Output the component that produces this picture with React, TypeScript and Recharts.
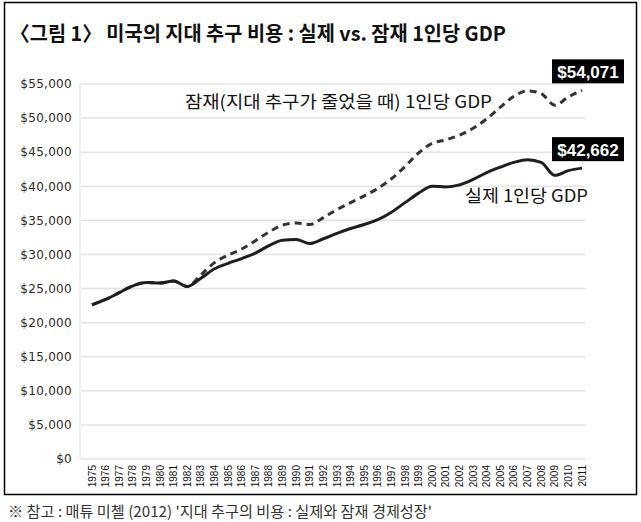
import React from "react";
import { LineChart, Line, XAxis, YAxis, CartesianGrid, LabelList } from "recharts";

const years = [
  1975, 1976, 1977, 1978, 1979, 1980, 1981, 1982, 1983, 1984, 1985, 1986, 1987,
  1988, 1989, 1990, 1991, 1992, 1993, 1994, 1995, 1996, 1997, 1998, 1999, 2000,
  2001, 2002, 2003, 2004, 2005, 2006, 2007, 2008, 2009, 2010, 2011,
];

const actualGdp = [
  22600, 23400, 24400, 25400, 25900, 25800, 26100, 25300, 26500, 27900, 28700,
  29400, 30200, 31300, 32100, 32200, 31600, 32300, 33100, 33800, 34400, 35100,
  36200, 37600, 39000, 40000, 39900, 40200, 41000, 42000, 42800, 43500, 43900,
  43500, 41600, 42300, 42662,
];

const potentialGdp = [
  22600, 23400, 24400, 25400, 25900, 25800, 26100, 25300, 27000, 28800, 29900,
  30800, 32000, 33300, 34300, 34600, 34400, 35400, 36600, 37600, 38600, 39700,
  41100, 42900, 44900, 46300, 46800, 47500, 48500, 49900, 51600, 53200, 54000,
  53600, 51900, 53100, 54071,
];

const yTicks = [0, 5000, 10000, 15000, 20000, 25000, 30000, 35000, 40000, 45000, 50000, 55000];

const titleText = "〈그림 1〉 미국의 지대 추구 비용 : 실제 vs. 잠재 1인당 GDP";
const potentialLabel = "잠재(지대 추구가 줄었을 때) 1인당 GDP";
const actualLabel = "실제 1인당 GDP";
const footnoteText = "※ 참고 : 매튜 미첼 (2012) '지대 추구의 비용 : 실제와 잠재 경제성장'";

const data = years.map((year, i) => ({
  year,
  actual: actualGdp[i],
  potential: potentialGdp[i],
}));

const KR = "'Noto Sans CJK KR', 'Noto Sans', sans-serif";

const YearTick = (props: any) => {
  const { x, y, payload } = props;
  return (
    <text
      x={x}
      y={y}
      transform={`rotate(-90 ${x} ${y})`}
      textAnchor="end"
      dominantBaseline="central"
      fontSize={10}
      fill="#111"
      fontFamily="'Liberation Sans', Arial, sans-serif"
    >
      {payload.value}
    </text>
  );
};

const makeBoxLabel = (lastIndex: number) => (props: any) => {
  const { x, y, value, index } = props;
  if (index !== lastIndex) return null;
  const cx = x + 6;
  const cy = y - 19;
  return (
    <g>
      <rect x={cx - 36} y={cy - 12} width={72} height={24} fill="#000" />
      <text
        x={cx}
        y={cy + 1}
        textAnchor="middle"
        dominantBaseline="central"
        fill="#fff"
        fontWeight="bold"
        fontSize={17}
        fontFamily="'Liberation Sans', Arial, sans-serif"
      >
        {"$" + Number(value).toLocaleString("en-US")}
      </text>
    </g>
  );
};

export default function App() {
  const last = years.length - 1;
  return (
    <div style={{ position: "absolute", left: 0, top: 0, width: 641, height: 522, background: "#fff" }}>
      <LineChart
        width={641}
        height={522}
        data={data}
        margin={{ top: 84, right: 56, bottom: 0, left: 0 }}
      >
        <CartesianGrid vertical={false} stroke="#e3e3e3" strokeWidth={1.5} />
        <XAxis
          dataKey="year"
          type="number"
          domain={[1975, 2011]}
          ticks={years}
          interval={0}
          padding={{ left: 12, right: 3 }}
          axisLine={false}
          tickLine={false}
          tickMargin={0}
          height={63}
          tick={<YearTick />}
        />
        <YAxis
          domain={[0, 55000]}
          ticks={yTicks}
          width={80}
          axisLine={{ stroke: "#efefef", strokeWidth: 2 }}
          tickLine={false}
          tickFormatter={(v: number) => "$" + v.toLocaleString("en-US")}
          tick={{ fontSize: 12, fill: "#2a2a2a", fontFamily: "'DejaVu Sans', sans-serif", letterSpacing: 0.3 }}
        />
        <Line
          type="monotone"
          dataKey="potential"
          stroke="#333"
          strokeWidth={3}
          strokeDasharray="7 5"
          dot={false}
          isAnimationActive={false}
        >
          <LabelList dataKey="potential" content={makeBoxLabel(last)} />
        </Line>
        <Line
          type="monotone"
          dataKey="actual"
          stroke="#1e1e1e"
          strokeWidth={3}
          dot={false}
          isAnimationActive={false}
        >
          <LabelList dataKey="actual" content={makeBoxLabel(last)} />
        </Line>
      </LineChart>
      <svg
        width={641}
        height={522}
        style={{ position: "absolute", left: 0, top: 0, pointerEvents: "none" }}
      >
        <rect x={4.5} y={2.5} width={632} height={492} fill="none" stroke="#000" strokeWidth={1.5} />
        <text
          x={10}
          y={32}
          dominantBaseline="central"
          fontSize={20}
          fontWeight="bold"
          fontFamily={KR}
          fill="#111"
          textLength={496}
          lengthAdjust="spacingAndGlyphs"
        >
          {titleText}
        </text>
        <text
          x={185}
          y={100}
          dominantBaseline="central"
          fontSize={17.5}
          fontFamily={KR}
          fill="#111"
          textLength={307}
          lengthAdjust="spacingAndGlyphs"
        >
          {potentialLabel}
        </text>
        <text
          x={465}
          y={194}
          dominantBaseline="central"
          fontSize={17.5}
          fontFamily={KR}
          fill="#111"
          textLength={123}
          lengthAdjust="spacingAndGlyphs"
        >
          {actualLabel}
        </text>
        <text
          x={8}
          y={510}
          dominantBaseline="central"
          fontSize={15}
          fontFamily={KR}
          fill="#333"
          textLength={424}
          lengthAdjust="spacingAndGlyphs"
        >
          {footnoteText}
        </text>
      </svg>
    </div>
  );
}
